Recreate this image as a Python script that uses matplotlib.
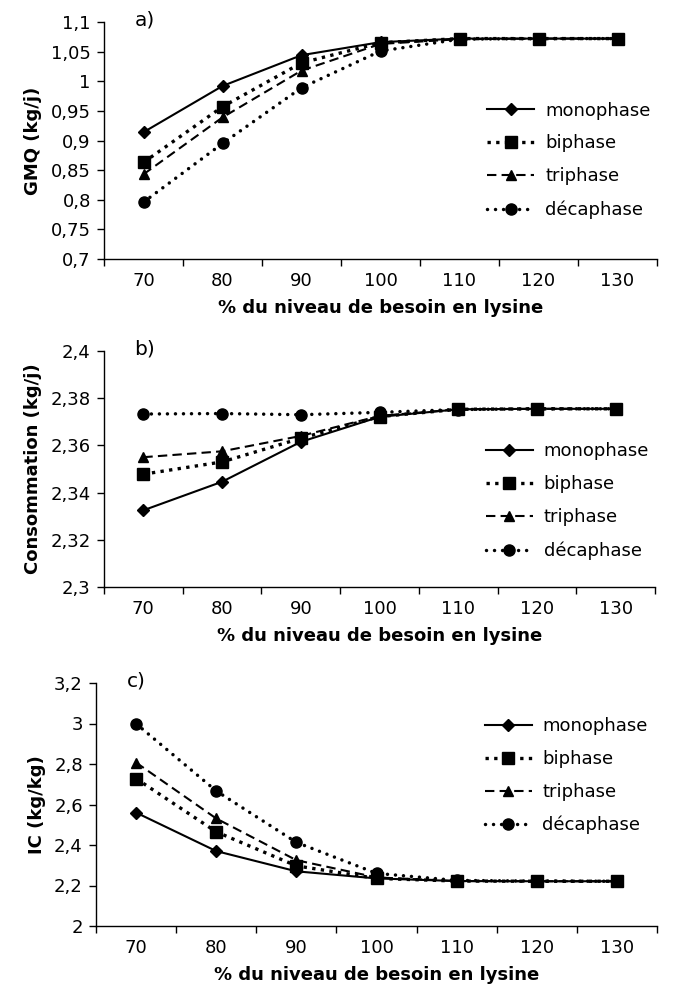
import matplotlib
matplotlib.use("Agg")
import matplotlib.pyplot as plt
from matplotlib.ticker import FixedLocator

plt.rcParams['font.family'] = ['DejaVu Sans']

categories = ["70", "80", "90", "100", "110", "120", "130"]
series_names = ["monophase", "biphase", "triphase", "décaphase"]

gmq = {
    "monophase": [0.914, 0.992, 1.044, 1.066, 1.072, 1.072, 1.072],
    "biphase":   [0.863, 0.957, 1.031, 1.065, 1.072, 1.072, 1.072],
    "triphase":  [0.843, 0.939, 1.018, 1.063, 1.071, 1.072, 1.072],
    "décaphase": [0.796, 0.895, 0.989, 1.051, 1.071, 1.072, 1.072],
}
conso = {
    "monophase": [2.3325, 2.3446, 2.3615, 2.3721, 2.3753, 2.3755, 2.3755],
    "biphase":   [2.3478, 2.3530, 2.3630, 2.3722, 2.3753, 2.3755, 2.3755],
    "triphase":  [2.3550, 2.3575, 2.3640, 2.3725, 2.3753, 2.3755, 2.3755],
    "décaphase": [2.3733, 2.3735, 2.3730, 2.3740, 2.3752, 2.3755, 2.3755],
}
ic = {
    "monophase": [2.56, 2.37, 2.27, 2.235, 2.222, 2.221, 2.221],
    "biphase":   [2.728, 2.465, 2.297, 2.235, 2.222, 2.221, 2.221],
    "triphase":  [2.807, 2.531, 2.325, 2.24, 2.222, 2.221, 2.221],
    "décaphase": [2.999, 2.667, 2.413, 2.26, 2.225, 2.222, 2.221],
}

gmq_ticks = [0.7, 0.75, 0.8, 0.85, 0.9, 0.95, 1.0, 1.05, 1.1]
gmq_labels = ["0,7", "0,75", "0,8", "0,85", "0,9", "0,95", "1", "1,05", "1,1"]
conso_ticks = [2.30, 2.32, 2.34, 2.36, 2.38, 2.40]
conso_labels = ["2,3", "2,32", "2,34", "2,36", "2,38", "2,4"]
ic_ticks = [2.0, 2.2, 2.4, 2.6, 2.8, 3.0, 3.2]
ic_labels = ["2", "2,2", "2,4", "2,6", "2,8", "3", "3,2"]

xlabel = "% du niveau de besoin en lysine"

styles = {
    "monophase": dict(linestyle='-', linewidth=1.5, marker='D', markersize=6, zorder=3),
    "biphase":   dict(linestyle=(0, (1, 1.6)), linewidth=2.4, dash_capstyle='butt', marker='s', markersize=9, zorder=5),
    "triphase":  dict(linestyle=(0, (4.5, 2.5)), linewidth=1.5, marker='^', markersize=7.5, zorder=4),
    "décaphase": dict(linestyle=(0, (0.01, 2.3)), linewidth=2.5, dash_capstyle='round', marker='o', markersize=8, zorder=2),
}

fig = plt.figure(figsize=(6.73, 9.85), dpi=100)

W, H = 673.0, 985.0
def rect(l, r, t, b):
    return [l / W, 1 - b / H, (r - l) / W, (b - t) / H]

panels = [
    (rect(104, 657, 22, 259), gmq, (0.7, 1.1), gmq_ticks, gmq_labels, "GMQ (kg/j)", "a)"),
    (rect(104, 655, 351, 587), conso, (2.3, 2.4), conso_ticks, conso_labels, "Consommation (kg/j)", "b)"),
    (rect(96, 657, 683, 926), ic, (2.0, 3.2), ic_ticks, ic_labels, "IC (kg/kg)", "c)"),
]
legend_anchor = [(0.68, 0.695), (0.68, 0.643), (0.68, 0.89)]

x = list(range(1, len(categories) + 1))
for i, (r, data, ylim, yt, yl, ylab, tag) in enumerate(panels):
    ax = fig.add_axes(r)
    for name in series_names:
        ax.plot(x, data[name], color='black', label=name, **styles[name])
    ax.set_xlim(0.5, len(categories) + 0.5)
    ax.set_ylim(*ylim)
    ax.set_xticks(x)
    ax.set_xticklabels(categories)
    ax.xaxis.set_minor_locator(FixedLocator([v + 0.5 for v in range(0, len(categories) + 1)]))
    ax.tick_params(axis='x', which='major', length=0, pad=9.5, labelsize=13)
    ax.tick_params(axis='x', which='minor', length=5, width=1, direction='out')
    ax.set_yticks(yt)
    ax.set_yticklabels(yl)
    ax.tick_params(axis='y', which='major', length=5, width=1, direction='out', labelsize=13, pad=4.5)
    for s in ['top', 'right']:
        ax.spines[s].set_visible(False)
    for s in ['left', 'bottom']:
        ax.spines[s].set_linewidth(1.0)
    ax.set_xlabel(xlabel, fontsize=13, fontweight='bold', labelpad=6)
    ax.set_ylabel(ylab, fontsize=13, fontweight='bold', labelpad=6)
    ax.text(0.055, 1.01, tag, transform=ax.transAxes, fontsize=14.5, va='center', ha='left')
    ax.legend(loc='upper left', bbox_to_anchor=legend_anchor[i], frameon=False,
              fontsize=13, handlelength=2.6, handletextpad=0.6, labelspacing=0.83,
              borderaxespad=0)

fig.savefig("out.png", dpi=100)
